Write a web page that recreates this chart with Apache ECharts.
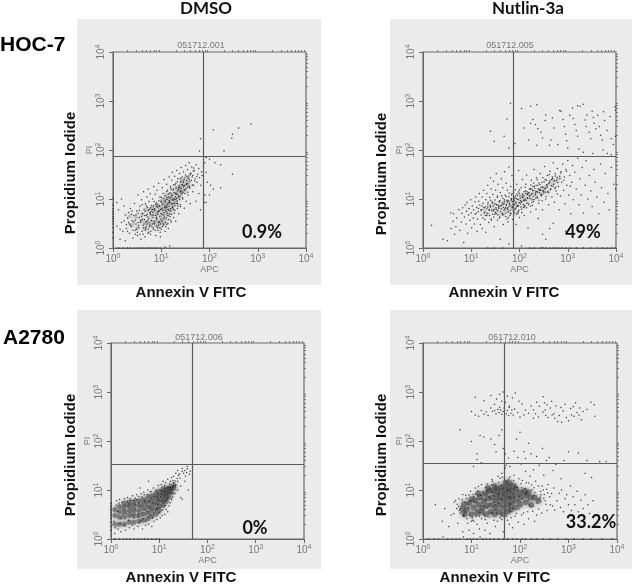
<!DOCTYPE html>
<html>
<head>
<meta charset="utf-8">
<title>Annexin V / PI flow cytometry</title>
<style>
  html, body { margin: 0; padding: 0; background: #fff; }
  #chart { width: 632px; height: 585px; }
</style>
<script src="https://cdn.jsdelivr.net/npm/echarts@6/dist/echarts.min.js"></script>
</head>
<body>
<div id="chart"></div>
<script>
const decades = [1, 10, 100, 1000, 10000];
const minorTicks = [2, 3, 4, 5, 6, 7, 8, 9, 20, 30, 40, 50, 60, 70, 80, 90, 200, 300, 400, 500, 600, 700, 800, 900, 2000, 3000, 4000, 5000, 6000, 7000, 8000, 9000];

const sampleIds = ["051712.001", "051712.005", "051712.006", "051712.010"];
const percents = ["0.9%", "49%", "0%", "33.2%"];
const gatesX = [75, 75, 48, 48];
const gatesY = [74, 75, 34, 35];

// events, [APC, PI]
const hoc7DmsoDots = [
  [120,260],[290,175],[300,210],[400,280],[720,340],[200,95],[65,170],[62,95],[85,70],[100,65],[130,55],[170,50],[75,45],[80,55],[85,35],[300,32],[170,17],[120,16],[100,12],[80,12],[78,8.5],[85,8.5],[75,10],[105,19],[90,22],
  [1.3,1],[1.6,1],[2,1],[2.3,1],[2.8,1],[3.2,1],[3.7,1],[4.3,1],[5,1],[5.6,1],[6.4,1],[7.3,1],[8.2,1],[9.5,1],[12,1.05],[15,1.1],
  [1,1.6],[1,2.1],[1,2.6],[1,3.1],[1,3.5],[1,4],[1,4.4],[1,5],[1,5.6],[1,6.3],[1,7.5],[1,10.5],[1.2,8.5],[1.5,10],[1.7,7.2],[1.3,6],[1.2,2.8],[1.4,1.5],[1.6,2.2],[1.5,3.3],[1.8,1.4],[1.9,3],[2,4.1],[2.1,5.3],[2.2,2],[2.4,2.7],[2.3,6.4],[2.5,3.6],[2.6,1.6],[2.7,4.6],[2.8,8.1],[2.9,2.3],[3,3.1],[3.1,5.7],[3.2,1.8],[3.3,12],[3.4,2.6],[3.5,4.2],[3.6,7.1],[3.7,3.3],[3.8,1.5],[3.9,9.6],[4,2.2],[4.1,5],[4.2,2.9],[4.3,14],[4.4,6.2],[4.5,3.8],[4.6,1.7],[4.7,8],[4.8,2.5],[4.9,4.6],[5,11],[5.1,3.1],[5.2,6.8],[5.3,2],[5.4,16],[5.5,4],[5.6,8.9],[5.7,2.7],[5.8,5.3],[5.9,13],[6,1.9],[6.2,3.6],[6.3,7.4],[6.5,4.7],[6.6,10],[6.8,2.4],[7,18],[7.1,6],[7.3,3.1],[7.5,12.5],[7.7,1.8],[7.9,8.4],[8,4.2],[8.2,15],[8.4,2.6],[8.6,5.5],[8.8,21],[9,7],[9.2,3.4],[9.4,11],[9.6,1.7],[9.8,9],[10,2.4],[10.5,17],[11,4],[11,13],[11.5,25],[12,2.2],[12,9.5],[12.5,6.7],[13,3],[13,20],[13.5,15],[14,11],[14,2.5],[14.5,28],[15,5],[15,8.5],[15.5,18],[16,3.4],[16,13],[16.5,24],[17,7],[17,35],[18,4.2],[18,16],[18.5,10],[19,29],[19,5.8],[20,21],[20,3.5],[21,12.5],[21,38],[22,8],[22,26],[23,17],[23,5],[24,33],[24,11],[25,7],[25,22],[26,44],[26,14],[27,28],[28,10],[28,19],[29,36],[30,6.5],[30,25],[31,15],[32,48],[32,31],[33,9],[34,21],[35,40],[36,12],[36,27],[38,55],[38,18],[40,33],[40,8],[42,24],[43,45],[45,14],[45,30],[47,19],[48,38],[50,26],[52,9],[53,50],[55,22],[57,32],[60,13],[60,42],[62,27],[65,6],[66,19],[68,36],[70,30],
  [6.3,3.7],[11.4,5.3],[8.7,2.9],[14.6,7.1],[9.3,4.4],[4.7,2.3],[17.8,9.4],[12.7,4.1],[7.4,5.9],[22.6,12.2],[10.8,7.9],[5.6,3.3],[15.9,5.6],[13.2,9.8],[3.4,2.9],[19.1,7.3],[8.1,3.9],[26.3,16.4],[11.7,6.6],[6.9,2.6],[16.7,11.7],[9.9,5.1],[4.1,3.9],[21.4,9.1],[13.8,6.1],[7.7,4.6],[30.4,18.7],[12.3,3.3],[5.1,4.9],[18.4,13.6],[10.2,6.3],[6.1,2.2],[24.7,14.1],[14.9,8.9],[8.9,5.6],[2.7,3.4],[20.3,16.8],[11.2,4.7],[3.9,4.4],[16.2,7.9],[7.2,3.2],[28.6,21.7],[13.4,5.2],[9.1,7.3],[4.4,3.1],[19.7,11.1],[12.1,8.7],[5.9,5.2],[23.8,18.9],[10.4,3.6],[15.3,10.7],[8.3,6.8],[33.6,24.2],[6.7,4.2],[17.2,6.6],[11.9,9.2],[3.1,2.4],[25.4,11.9],[13.7,4.6],[9.6,3.1],[37.1,29.3],[5.3,3.7],[21.9,14.7],[14.2,12.6],[7.9,2.8],[2.3,2.9],[18.9,8.3],[12.6,7.4],[29.7,15.4],[6.5,6.1],[16.4,4.9],[10.7,5.8],[41.2,33.7],[4.9,2.7],[24.1,9.8],[8.5,4.9],[15.1,13.4],[11.1,2.9],[34.7,17.3],[19.4,19.6],[7.1,3.5],[13.1,6.9],[3.7,3.6],[27.2,12.9],[9.7,6.1],[17.6,15.2],[5.4,2.4],[12.9,10.6],[22.1,7.2],[8.8,3.4],[39.3,22.4],[6,4.9],[15.6,6.3],[31.2,27.6],[10.1,8.6],[4.5,4.6],[20.8,10.2],[14.1,3.8],[7.6,7.7],[26.7,19.8],[2.1,3.3],[11.6,4.3],[18.1,6.1],[9.4,2.6],[46.3,37.2],[5.8,2.9],[23.2,15.9],[13.6,7.7],[16.9,9.7],[8.2,5.3],[35.9,20.4],[3.3,5.1],[12.2,5.9],[6.6,3.1],[19.9,12.8],[10.9,3.1],[28.2,13.7],[7.3,6.4],[15.2,4.4],[43.6,28.1],[4.2,1.9],[21.1,8.1],[11.3,10.4],[9,5.7],[25.9,23.4],[14.4,5.8],[2.9,1.9],[17.3,8.1],[6.2,5.6],[32.3,16.1],[12.4,2.7],[8,7.1],[20.1,13.1],[5.2,4.3],[16.1,15.7],[10.3,4.9],[37.8,25.6],[13.9,8.4],[7,4.7],[24.4,17.2],
  [2.4,4.9],[3.2,2.1],[1.9,2.5],[4.6,5.6],[2.9,3.7],[5.5,2.1],[3.6,1.9],[1.7,3.6],[4.3,2.6],[6.7,5.3],[2.2,3.1],[3,4.7],[5,3.5],[1.4,2.4],[7.5,2.3],[3.5,5.9],[2.6,2.3],[4.9,7.2],[6.4,2.7],[8.6,2.3],[1.8,4.7],[3.8,3.7],[5.7,6.2],[2.5,5.7],[7.8,4.1],[9.5,2.1],[4,7.6],[6,6.6],[3.3,3.3],[10.6,2.7],[5.4,5.8],[2,2.2],[8.4,7.7],[13.7,3.2],[7.1,8.9],[4.7,3.4],[12.8,5.6],[9.8,3.9],[6.9,7.1],[15.7,3.7],[11.8,7.1],[18.6,5.1],[8.9,9.2],[14.7,9.3],[21.7,6.4],[10.1,10.8],[16.6,12.1],[24.9,7.6],[12,11.7],[19.3,9.9],[27.6,10.6],[13,14.2],[22.9,11.1],[30.9,12.9],[15.8,16.7],[25.1,15.1],[35.2,13.8],[18,19.3],[28.9,17.6],[21.6,22.4],[33.1,19.7],[24.6,26.1],[38.6,16.7],[29.1,23.1],[44.1,19.4],[34.2,28.8],[49.3,23.2],[39.8,31.4],[54.4,28.7],[47.2,43.1]
];
const hoc7DmsoCore = [
  [3,4.2],[4,3.5],[4,5],[5,3.2],[5,6],[6,3],[6,4.5],[7,3.4],[7,5.6],[8,3.6],[8,4.8],[9,3.2],[9,6],[10,3.5],[10,4.6],[10,7],[11,6.2],[11,8],[12,3.8],[12,5],[13,6.5],[13,8],[14,4.7],[14,10],[15,6],[15,8.2],[16,11],[17,6.4],[17,10],[18,7.8],[19,13],[20,8.5],[20,10],[22,14],[23,11],[24,18],[26,13.5],[28,19],[30,15],[33,20],[36,24],
  [2.5,3],[3.2,2.6],[4.5,2.5],[2.2,4.4],[6.5,6.5],[8.5,2.7],[11.5,3.2],[8,7.5],[10.5,9.5],[13,12],[21,17],[27,25],[38,18]
];

const hoc7NutlinDots = [
  [110,700],[170,780],[230,840],[65,900],[190,420],[170,350],[215,330],[240,270],[280,230],[55,430],[48,190],[25,240],[30,150],[80,135],[60,110],[75,115],[340,400],[350,520],[480,450],[520,280],[680,640],[720,620],[800,420],[850,300],[900,210],[950,155],[1100,510],[1250,720],[1300,440],[1400,330],[1500,250],[1600,190],[1600,800],[1800,780],[2100,860],[2300,410],[2400,300],[2500,520],[2800,230],[3000,170],[3200,620],[3400,460],[3500,350],[3800,270],[4200,510],[4500,300],[4800,200],[5200,160],[5500,600],[5800,400],[6500,250],[7500,480],[8000,170],[8800,130],[9500,760],[9700,190],[9800,650],[450,160],[300,175],[230,125],[155,160],[125,280],[420,125],[620,130],[1000,110],[1700,105],[2100,90],[3300,85],[5400,100],[6600,85],[8000,80],
  [2.6,1.5],[1.5,2.9],[3.2,1.4],[3.8,2.5],[4.5,1.9],[4.2,3.5],[4.3,5],[3.8,5.2],[4.8,2.7],[5,4.1],[5.5,6],[5.8,2.3],[6.2,3.4],[6.6,6.6],[6.4,5.1],[7,1.3],[7.2,4.3],[7.5,7.5],[7.8,3.1],[8,5.6],[8.2,8.5],[8.4,2],[8.8,4.7],[9,6.4],[9.4,3.7],[9.7,9.6],[10,5.2],[10.2,2.6],[10.5,7.2],[11,4.1],[11.2,6],[11.6,3.1],[12,8.8],[12,4.9],[12.5,11],[13,6.7],[13.2,2.2],[13.5,3.9],[14,5.5],[14.3,9],[14.7,13],[15,7.5],[15.4,3],[16,4.7],[16.3,6],[16.8,11],[17,2.5],[17.5,8.2],[18,15],[18.5,5.2],[19,3.8],[19.5,6.9],[20,9.7],[20,2.1],[21,4.6],[21,13],[22,7.8],[22,19],[23,3.3],[23.5,5.8],[24,10.8],[25,6.9],[25,27],[26,16],[26,3.9],[27,8.8],[28,4.9],[28,12.3],[29,23],[30,6.1],[30,2.7],[31,9.5],[32,15],[33,5],[33,33],[34,7.7],[35,3.7],[35,11.5],[36,20],[37,6.4],[38,9],[39,4.3],[40,13.5],[40,1.5],[42,7.3],[42,26],[44,5.1],[45,10.3],[45,17],[46,3],[48,8.1],[49,36],[50,6.3],[50,12],[52,4.4],[53,21],[55,9.3],[56,15],[58,6.8],[58,3.4],[60,11.2],[60,45],[62,7.6],[65,5],[66,18],[68,9.9],[70,13],[70,30],[72,3.8],[74,7],[75,24],[76,4.8],[78,10.6],[80,6],[82,15.5],[85,8.3],[86,3],[88,20],[90,11.8],[92,5.2],[95,7.3],[96,38],[100,13],[100,4.2],[105,9.3],[108,17],[110,6.2],[115,25],[115,11],[120,7.8],[125,4.6],[125,14],[130,9.8],[135,20],[140,6.6],[140,31],[145,12.4],[150,8.3],[150,2.6],[160,16],[165,10.4],[170,5.4],[175,24],[180,13],[185,7.4],[190,18],[200,9.8],[200,40],[210,14.5],[220,6.2],[225,27],[230,11],[240,19],[245,4],[250,8.2],[260,15],[270,33],[275,12],[290,22],[295,9.2],[300,6],[310,17],[320,13.2],[330,46],[340,25],[350,10],[365,19],[380,30],[390,14],[400,7.6],[420,22],[430,37],[450,16],[470,11],[480,28],[500,55],[510,20],[530,8.6],[550,33],[570,14.6],[590,24],[610,42],[640,18],[660,6],[680,29],[710,11.5],[730,36],[750,22],[790,52],[820,15],[850,28],[880,8],[920,40],[960,19],[1000,61],[1050,12],[1100,30],[1150,5],[1200,22],[1250,48],[1300,9.7],[1400,35],[1500,16],[1600,68],[1700,7.6],[1800,26],[1900,12],[2000,44],[2100,5.2],[2300,19],[2400,60],[2600,10],[2800,30],[3000,14.5],[3200,7],[3500,40],[3700,22],[4000,11],[4400,5],[4800,52],[5000,17],[5600,8.6],[6000,33],[6800,13],[7200,6],[8000,44],[9000,20],[9800,16],
  [160,1],[200,1],[270,1],[300,1.02],[350,1],[420,1],[490,1],[560,1],[640,1],[750,1],[900,1],[1100,1],[1500,1],[2100,1],[3000,1],[4100,1],[5200,1],[6500,1],[8000,1],[9500,1],[22,1],[30,1],[45,1],[60,1.2],[110,1.1],[300,1.9],[350,1.5],[420,2.5],[500,3.2],[900,2.2],
  [23.7,6.1],[41.3,7.4],[31.6,5.3],[56.8,8.7],[18.2,6.7],[74.3,5.7],[27.4,8.2],[47.1,4.8],[93.6,9.8],[36.9,6.9],[21.3,5.1],[64.2,7.1],[118,10.7],[29.2,4.3],[52.7,11.3],[83.4,6.4],[15.8,5.9],[39.6,9.3],[147,12.8],[72.1,8.9],[24.8,7.4],[58.3,5.4],[104,7.9],[33.1,6.2],[187,15.3],[45.7,7.7],[67.9,10.1],[19.6,4.6],[126,9.1],[88.2,12.6],[28.7,5.7],[236,13.7],[51.4,6.7],[38.2,4.1],[77.8,9.4],[161,11.4],[22.4,8.6],[61.3,13.2],[97.4,5.9],[43.9,8.4],[279,17.2],[134,14.6],[16.7,7.2],[55.1,3.9],[109,8.6],[34.6,10.8],[204,18.3],[71.3,6.8],[26.1,3.7],[84.9,10.4],[316,14.2],[48.7,9.7],[141,8.2],[63.8,4.6],[173,16.4],[30.9,7.9],[95.2,13.9],[253,21.1],[40.8,5.6],[122,6.7],[79.1,7.6],[372,19.6],[20.9,6.3],[152,13.1],[57.6,6.1],[218,10.3],[35.7,4.7],[102,11.6],[426,23.7],[68.4,12.1],[196,8.9],[47.9,5.9],[289,12.3],[86.7,4.9],[131,17.4],[486,26.3],[25.3,9.4],[167,7.2],[344,16.8],[74.9,8.1],[112,5.3],[233,24.7],[551,29.4],[42.6,11.6],[90.3,7.3],[183,9.6],[397,13.6],[59.9,9.1],[627,21.8],[143,10.6],[268,15.7],[32.4,6.6],[719,33.8],[99.7,15.2],[214,13.3],[460,18.6],[66.7,5.1],[128,7.4],[304,27.2],[536,16.3],[81.6,11.4],[832,24.2],[172,19.2],[37.3,7.3],[252,9.4],[610,12.7],[115,12.7],[415,31.6],[1130,18.4],[53.7,7.8],[355,11.2],[197,21.3],[940,36.7],[690,26.2],
  [12.7,5.1],[14.1,6.4],[17.3,4.1],[19.2,5.4],[21.8,6.9],[24.1,4.6],[26.7,5.9],[28.4,7.1],[31.1,4.9],[33.8,7.6],[35.3,5.8],[37.9,8.7],[41.9,6.3],[44.6,4.7],[46.2,6.7],[48.4,8.9],[51.9,5.2],[53.3,7.4],[56.1,6.4],[59.1,4.2],[61.9,8.2],[64.9,5.9],[67.1,9.1],[69.8,6.6],[73.2,7.7],[76.1,9.7],[78.7,5.3],[81.9,8.7],[86.3,6.9],[89.4,9.9],[91.7,7.1],[94.4,5.6],[98.9,8.4],[103,10.4],[107,6.9],[111,8.9],[117,12.1],[121,9.4],[124,11.6],[129,7.1],[133,12.9],[138,9.3],[144,14.1],[148,10.2],[154,7.7],[158,13.6],[164,11.9],[169,15.8],[176,12.4],[181,8.4],[189,14.7],[193,11.3],[206,16.6],[212,12.2],[221,18.9],[228,14.3],[238,10.6],[246,16.2],[258,13.4],[266,19.7],[277,15.1],[286,11.6],[298,17.9],[306,14.7],[323,22.6],[336,16.1],[348,13.7],[362,24.1],[377,17.4],[402,20.6],[438,15.7],[462,25.1],[498,18.1],[524,23.6],[566,17.3],[602,27.4]
];
const hoc7NutlinCore = [
  [18,6],[22,5],[24,7],[28,6],[30,8],[34,5.5],[38,7],[42,5],[45,8],[50,6],[55,9],[60,5.5],[65,7.5],[70,10],[75,6.5],[85,8],[90,5.2],[100,9],[110,11],[120,7],[130,10],[150,12],[170,10],[190,13],[220,12],[250,15],[290,13],[320,15],[360,18],[400,14],[450,20],[500,24],[560,22],[640,26]
];

const a2780DmsoDots = [
  [1,1.5],[1,1.8],[1,2.2],[1,2.6],[1,3],[1,3.4],[1,3.8],[1,4.2],[1,4.7],[1,5.3],[1.2,1],[1.5,1],[1.8,1],[2.1,1],[2.5,1],[3,1],[3.6,1],[4.2,1],[5,1],[5.8,1],[7,1],[8.5,1],[10,1],
  [1.2,1.3],[1.3,6],[1.4,1.6],[1.5,6.4],[1.6,1.4],[1.7,5.6],[1.9,6.6],[2,1.5],[2.2,7],[2.4,1.7],[2.6,6.2],[2.8,7.6],[3,1.6],[3.2,6.8],[3.4,8],[3.6,1.8],[3.8,7.4],[4.2,8.4],[4.5,1.6],[4.8,9],[5.2,1.9],[5.6,8.2],[5.8,10],[6,2],[6.5,9.2],[7,1.8],[7.5,11],[7.8,2.3],[8.5,10],[9,2.5],[9.5,12.5],[10.5,2.7],[11,13],[11.5,3],[12,15],[13,3.2],[13.5,14.2],[14,4],[15,3.6],[15,16.5],[16,4.7],[17,15],[17,5.5],[18,18],[18,6.4],[19,7.2],[20,14],[20,19],[21,8.5],[22,12.5],[22,22],[24,10],[24,15],[25,20],[27,17.5],[28,12],[30,24],[32,22],[34,15],[35,19],[38,27],[42,21],[44,24],[38,30],[30,6.5],[40,10],[28,7],[6,15],[4,11],[9,4.2],[24,25],
  [1.14,2.3],[1.37,3.7],[1.62,2.6],[1.28,4.9],[1.83,1.9],[2.07,3.3],[1.46,5.4],[2.31,2.4],[2.62,4.3],[1.71,4.1],[2.94,2.7],[3.23,5.1],[2.17,5.9],[3.67,3.2],[2.73,1.9],[4.14,4.6],[3.41,6.3],[4.63,2.6],[1.23,1.7],[5.12,5.7],[3.87,2.2],[5.74,3.6],[4.37,7.2],[6.36,4.4],[2.48,6.6],[6.94,6.8],[5.33,2.3],[7.62,3.4],[4.88,8],[8.27,5.2],[6.1,7.9],[9.14,7.1],[7.23,2.7],[10.3,4.3],[8.72,9.4],[11.4,5.9],[9.63,3.3],[12.7,7.8],[6.77,9.3],[13.6,10.7],[10.9,9.6],[14.8,6.6],[11.7,3.9],[15.9,8.7],[12.9,12.4],[17.2,11.4],[13.3,4.8],[18.6,8.4],[16.4,13.2],[19.7,12.1],[3.13,4.1],[4.42,3.4],[5.47,4.8],[2.86,3.1],[7.33,5.4],[6.62,3.1],[8.93,4.1],[9.87,6.1],[1.93,3.9],[3.56,2.8],[4.96,6.1],[7.91,7.3],[10.6,7.2],[12.2,5.3],[14.2,8.2],[1.54,2.1],[2.27,4.7],[5.94,2.8],[8.43,3.7],[11.1,8.4],[16.8,9.9],[3.02,6.1],[6.21,5.9],[13.9,6.1],[15.4,11.3],[4.21,2.4],[2.59,3.4],[7.04,4.1],[9.34,5.1],[12.5,9.2],[1.76,3.2],[3.74,5.4],[5.2,3.8],[10.1,3.5],[18.1,10.3],[21.3,15.2],[23.6,17.1],[26.4,21.3],[19.2,15.7],[29.8,27.4],[33.7,25.1],[36.9,22.7]
];
const a2780DmsoCore = [
  [1.2,2],[1.2,3],[1.2,4],[1.5,2],[1.5,2.8],[1.5,3.6],[1.5,4.6],[1.9,2],[1.9,2.8],[1.9,3.6],[1.9,4.6],[1.9,5.4],[2.4,2.2],[2.4,3],[2.4,3.8],[2.4,4.8],[2.4,5.6],[3,2.2],[3,3],[3,3.8],[3,4.8],[3,5.8],[3.8,2.3],[3.8,3],[3.8,3.8],[3.8,4.8],[3.8,6],[4.7,2.4],[4.7,3.2],[4.7,4.2],[4.7,5.2],[4.7,6.4],[5.8,2.6],[5.8,3.4],[5.8,4.4],[5.8,5.6],[5.8,7],[7,2.9],[7,3.8],[7,4.8],[7,6],[7,7.6],[8.5,3.2],[8.5,4.2],[8.5,5.4],[8.5,6.8],[8.5,8.4],[10,3.8],[10,4.8],[10,6.2],[10,7.8],[10,9.4],[12,4.8],[12,6],[12,7.4],[12,9],[12,10.6],[14,5.8],[14,7.2],[14,8.8],[14,10.6],[16,7.2],[16,9],[16,11],[18,9],[18,11],[20,11],[20,12.5]
];

const a2780NutlinDots = [
  [12,780],[18,660],[25,850],[30,560],[33,720],[38,900],[42,650],[45,1000],[50,610],[55,820],[60,520],[70,750],[80,950],[95,650],[110,570],[130,430],[170,520],[190,430],[220,620],[250,510],[300,800],[320,600],[330,430],[360,550],[420,470],[450,650],[500,360],[550,520],[700,480],[780,410],[850,560],[1100,460],[1250,500],[1400,600],[1500,380],[1700,470],[2000,400],[2400,440],[2900,620],[3400,550],[3500,320],
  [10,400],[12,340],[14,320],[16,420],[18,350],[20,390],[22,330],[25,470],[27,400],[30,420],[32,360],[35,440],[37,380],[38,490],[40,430],[42,350],[45,400],[47,470],[52,360],[55,420],[58,330],[60,480],[65,370],[68,430],[72,340],[78,450],[90,380],[100,310],[120,340],[150,370],[190,290],[210,360],[240,310],[300,390],[340,330],[380,300],[460,340],[520,290],[600,250],[640,330],[720,240],[900,300],[1000,260],[1150,340],[1300,320],[1650,340],[1850,270],
  [5.8,170],[10,98],[13,55],[15,130],[18,120],[25,110],[30,85],[13,42],[11,30],[16,36],[32,60],[37,130],[42,170],[45,70],[50,55],[52,32],[58,45],[62,30],[75,62],[85,110],[90,46],[100,150],[105,34],[120,60],[130,44],[150,90],[170,55],[190,26],[220,48],[250,32],[290,70],[310,20],[350,40],[400,46],[480,25],[550,33],[700,17],[1000,60],[1600,57],[2200,22],[2400,40],[4400,38],[6000,38],[3000,18],[800,40],
  [1.3,1],[1.7,1],[2.1,1],[2.6,1.1],[3.2,1],[4,1],[4.8,1],[5.7,1],[6.8,1.1],[8.2,1],[9.5,1],[11,1],[13,1],[15,1.1],[17,1],[20,1],[24,1],[29,1],[36,1],[45,1],[56,1],[70,1],[85,1],[110,1],[130,1],[170,1],[220,1],[300,1],[420,1],[600,1],[900,1],[1300,1],[2000,1],[3000,1],[5000,1],[8000,1],
  [1.8,5],[2.5,2.3],[2.8,4.2],[3.4,1.8],[3.8,3.1],[4.4,5.6],[5.2,2.1],[5.5,6.6],[6,4.3],[6.6,1.4],[7,3],[7.6,7.8],[8.4,2.1],[9,1.5],[9.6,9.4],[10.5,2.4],[11,1.3],[12,11],[13,2],[14.5,1.6],[16,13],[19,1.5],[21,2.1],[24,1.3],[27,15],[31,1.8],[35,19],[42,22],[45,1.4],[50,28],[60,2],[70,1.7],[75,20],[92,2.2],[95,17],[120,2],[130,24],[135,14],[150,2.6],[160,19],[175,10],[200,2.3],[210,15],[220,3.1],[240,12],[270,8],[280,3.4],[300,10],[330,6],[360,3.8],[380,13],[420,5],[450,8.5],[500,11],[520,3.9],[580,6],[640,8.6],[680,4.4],[720,10],[790,3.6],[850,6.6],[920,8],[1000,5],[1100,12],[1150,3.8],[1250,7.3],[1350,5],[1500,9.4],[1600,3.6],[1800,6.2],[2000,4.2],[2200,8],[2500,5],[2700,3.3],[3200,6],
  [7.3,3.4],[9.6,6.1],[12.4,2.9],[6.2,4.7],[15.7,7.8],[18.3,3.1],[8.4,5.2],[11.1,7.3],[23.6,2.8],[14.2,4.1],[27.4,8.9],[5.6,3.9],[19.7,11.2],[33.2,3.3],[10.3,2.7],[41.7,12.4],[16.6,5.4],[24.9,6.3],[52.3,2.9],[7.9,6.7],[36.4,14.3],[63.7,3.6],[13.3,9.4],[21.4,4.4],[46.8,7.7],[77.2,12.1],[29.1,5.7],[9.2,3.1],[58.4,16.7],[95.3,4.1],[18.9,8.2],[38.7,2.7],[71.6,8.4],[114,6.7],[26.2,12.7],[5.1,5.1],[87.3,11.3],[49.4,3.7],[137,9.2],[16.1,2.6],[32.6,10.4],[64.2,5.2],[162,4.6],[11.7,5.7],[43.3,18.2],[105,13.4],[22.7,7.1],[191,7.6],[8.7,4.4],[55.8,9.9],[84.4,3.3],[30.3,3.9],[127,10.7],[226,5.4],[14.9,6.4],[68.7,13.8],[39.9,6.6],[148,6.1],[264,9.3],[20.6,9.7],[97.2,7.4],[6.8,3.1],[47.3,4.6],[173,12.6],[25.4,3.4],[73.1,4.3],[310,6.8],[12.8,3.9],[118,3.4],[35.6,8.3],[202,8.9],[57.9,7.2],[17.8,4.8],[89.6,9.6],[355,10.4],[28.3,7.7],[156,5.1],[44.1,10.8],[10.8,8.1],[67.3,6.9],[241,4.1],[4.9,4.2],[101,5.8],[19.3,6.1],[410,7.3],[52.7,15.3],[132,8.3],[31.4,5],[76.4,7.1],[285,12.1],[8.1,2.6],[40.6,3.1],[183,3.7],[15.1,3.5],[61.2,4.4],[109,11.1],[23.9,10.9],[470,4.7],[93.7,6],[37.2,5.3],[6.4,6.3],
  [4.3,3.3],[5.4,4.6],[4.7,6.1],[6.9,2.9],[7.4,5.6],[5.9,3.4],[9.9,2.3],[8.9,7.9],[6.6,8.1],[12.2,8.3],[11.3,2.3],[13.9,11.8],[17.1,9.1],[14.6,2.9],[21.2,13.3],[19.1,2.5],[26.6,16.4],[28.9,2.4],[30.6,12.1],[34.2,2.3],[38.3,17.4],[42.2,2.5],[47.7,23.1],[55.2,2.4],[49.1,13.2],[65.4,2.7],[61.7,18.7],[78.6,2.9],[73.7,15.4],[108,3.1],[112,15.7],[144,3.6],[152,13.9],[186,4.7],[194,11.1],[248,6.3],[262,7.1],[316,8.1],[342,5.1],[372,8.7]
];
const a2780NutlinCore = [
  [8,4],[9,5.4],[10,3.2],[11,4.4],[12,6.2],[13,3.4],[14,5],[15,7.2],[16,3.6],[17,4.4],[18,6],[19,8.4],[20,3.2],[21,4.8],[22,6.8],[23,9.4],[25,3.6],[26,5],[27,7],[28,9.6],[30,3.2],[31,4.4],[32,6],[33,8],[34,10.5],[37,3.6],[38,5],[39,6.8],[40,9],[41,11.5],[45,3.2],[46,4.4],[47,6],[48,8],[49,10.5],[50,14],[55,3.6],[56,5],[57,6.8],[58,9],[59,11.5],[65,4],[66,5.4],[67,7.2],[68,9.6],[80,4.4],[81,6],[82,8],[83,10.5],[100,5],[102,7],[104,9],[130,5.6],[132,7.6],[165,7],
  [6.5,4],[7,5.2],[7.2,3.2],[10,6.5],[14,8.5],[200,7],[240,6],[170,5],[125,9.5],[150,9],[75,12],[60,14],[30,12],[22,11]
];

const allDots = [hoc7DmsoDots, hoc7NutlinDots, a2780DmsoDots, a2780NutlinDots];
const allCores = [hoc7DmsoCore, hoc7NutlinCore, a2780DmsoCore, a2780NutlinCore];
const coreSizes = [4, 4, 5, 6];
const coreOpacity = [0.18, 0.12, 0.45, 0.45];

const gridBoxes = [
  { left: 113, top: 52, width: 193, height: 196 },
  { left: 423, top: 52, width: 193, height: 196 },
  { left: 111, top: 343, width: 193, height: 196 },
  { left: 423, top: 343, width: 194, height: 196 }
];
const cardBoxes = [
  { x: 77, y: 19, width: 244, height: 266 },
  { x: 390, y: 19, width: 242, height: 266 },
  { x: 77, y: 310, width: 244, height: 259 },
  { x: 390, y: 310, width: 242, height: 259 }
];
const idAt = [[201, 46], [510, 46], [199, 338], [512, 338]];
const percentAt = [[262, 232], [583, 232], [255, 528], [591, 522]];
const annexinAt = [[191, 293], [504, 293], [181, 578], [495, 578]];
const propidiumAt = [[71, 173], [382, 174], [71, 455], [382, 455]];

const tickLabel = (v) => `{b|10}{s|${Math.round(Math.log10(v))}}`;
const tickRich = {
  b: { fontSize: 10, color: "#777", fontFamily: "Liberation Sans" },
  s: { fontSize: 7, color: "#777", fontFamily: "Liberation Sans", verticalAlign: "bottom", padding: [0, 0, 6, 0] }
};

function logAxis(gridIndex, isY, name) {
  return {
    type: "log",
    logBase: 10,
    min: 1,
    max: 10000,
    gridIndex,
    name,
    nameLocation: "middle",
    nameGap: isY ? 13 : 15,
    nameRotate: isY ? 90 : 0,
    nameTextStyle: { fontSize: 9, color: "#777", fontFamily: "Liberation Sans" },
    splitLine: { show: false },
    minorTick: { show: false },
    axisLine: { lineStyle: { color: "#666", width: 1 }, onZero: false },
    axisTick: { length: 4, lineStyle: { color: "#666" }, customValues: decades },
    axisLabel: {
      margin: 5,
      rotate: isY ? 90 : 0,
      customValues: decades,
      formatter: tickLabel,
      rich: tickRich,
      hideOverlap: false,
      showMinLabel: true,
      showMaxLabel: true
    }
  };
}

function minorAxis(gridIndex) {
  return {
    type: "log",
    logBase: 10,
    min: 1,
    max: 10000,
    gridIndex,
    splitLine: { show: false },
    axisLine: { show: false, onZero: false },
    axisLabel: { show: false },
    axisTick: { length: 2, lineStyle: { color: "#777" }, customValues: minorTicks }
  };
}

const grid = [], xAxis = [], yAxis = [], series = [], graphic = [];

gridBoxes.forEach((box, i) => {
  grid.push({ ...box, show: true, backgroundColor: "transparent", borderColor: "#6a6a6a", borderWidth: 1.2 });
  xAxis.push(logAxis(i, false, "APC"));
  yAxis.push(logAxis(i, true, "PI"));
  series.push({
    type: "scatter",
    xAxisIndex: i,
    yAxisIndex: i,
    data: allCores[i],
    symbolSize: coreSizes[i],
    silent: true,
    itemStyle: { color: "#333", opacity: coreOpacity[i], shadowBlur: 4, shadowColor: "#333" }
  });
  series.push({
    type: "scatter",
    xAxisIndex: i,
    yAxisIndex: i,
    data: allDots[i],
    symbolSize: 1.5,
    silent: true,
    itemStyle: { color: "#222", opacity: 0.85 },
    markLine: {
      silent: true,
      symbol: "none",
      animation: false,
      label: { show: false },
      lineStyle: { color: "#5a5a5a", width: 1.2, type: "solid" },
      data: [{ xAxis: gatesX[i] }, { yAxis: gatesY[i] }]
    }
  });
  graphic.push({ type: "rect", z: -10, shape: cardBoxes[i], style: { fill: "#ebebeb" } });
  graphic.push({
    type: "text", x: idAt[i][0], y: idAt[i][1],
    style: { text: sampleIds[i], font: "9px 'Liberation Sans'", fill: "#777", align: "center", verticalAlign: "middle" }
  });
  graphic.push({
    type: "text", x: percentAt[i][0], y: percentAt[i][1],
    style: { text: percents[i], font: "bold 18px Lato", fill: "#111", align: "center", verticalAlign: "middle" }
  });
  graphic.push({
    type: "text", x: annexinAt[i][0], y: annexinAt[i][1],
    style: { text: "Annexin V FITC", font: "bold 15px 'Liberation Sans'", fill: "#111", align: "center", verticalAlign: "middle" }
  });
  graphic.push({
    type: "text", x: propidiumAt[i][0], y: propidiumAt[i][1], rotation: Math.PI / 2,
    style: { text: "Propidium Iodide", font: "bold 15px 'Liberation Sans'", fill: "#111", align: "center", verticalAlign: "middle" }
  });
});

// second pair of axes only carries the small log ticks
gridBoxes.forEach((box, i) => {
  xAxis.push(minorAxis(i));
  yAxis.push(minorAxis(i));
});

graphic.push(
  { type: "text", x: 206, y: 9, style: { text: "DMSO", font: "bold 17px Lato", fill: "#111", align: "center", verticalAlign: "middle" } },
  { type: "text", x: 528, y: 9, style: { text: "Nutlin-3a", font: "bold 17px Lato", fill: "#111", align: "center", verticalAlign: "middle" } },
  { type: "text", x: 0, y: 45, style: { text: "HOC-7", font: "bold 21px 'Liberation Sans'", fill: "#000", align: "left", verticalAlign: "middle" } },
  { type: "text", x: 3, y: 338, style: { text: "A2780", font: "bold 21px 'Liberation Sans'", fill: "#000", align: "left", verticalAlign: "middle" } }
);

const chart = echarts.init(document.getElementById("chart"), null, { renderer: "canvas" });
chart.setOption({ animation: false, backgroundColor: "#fff", grid, xAxis, yAxis, series, graphic });
</script>
</body>
</html>
